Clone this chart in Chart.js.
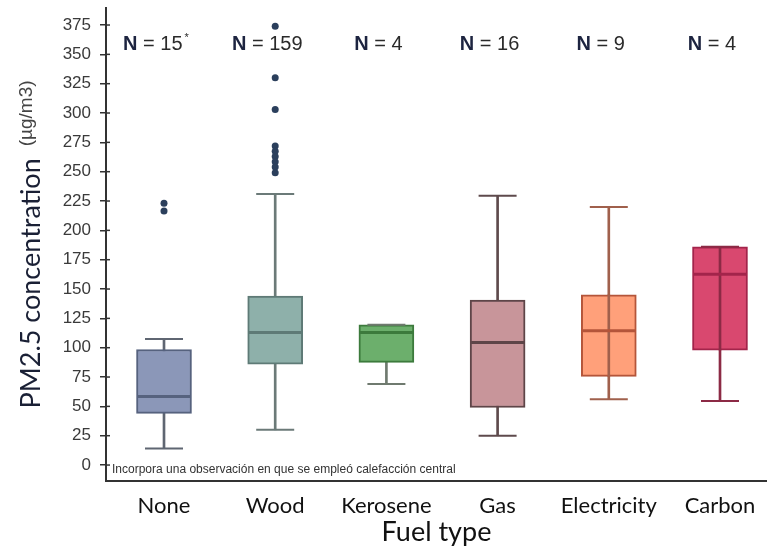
<!DOCTYPE html>
<html><head><meta charset="utf-8">
<script src="https://cdn.jsdelivr.net/npm/chart.js@4"></script>
<style>html,body{margin:0;padding:0;background:#fff;overflow:hidden}#wrap{width:767px;height:546px;position:relative}</style>
</head><body><div id="wrap"><canvas id="c"></canvas></div>
<script>
// ---- data ----
const categories = ['None', 'Wood', 'Kerosene', 'Gas', 'Electricity', 'Carbon'];
const whiskerLow = [14, 30, 69, 25, 56, 54.5];
const q1 = [44, 86, 87.5, 49, 75.5, 98];
const median = [58.5, 113, 113, 104.5, 114.5, 162.5];
const q3 = [98.5, 144, 119.5, 140.5, 145, 186];
const whiskerHigh = [107.5, 231, 119.5, 229.5, 220, 186];
const outliersNone = [223, 216.5];
const outliersWood = [374, 330, 303, 272, 267.5, 263, 258.5, 254, 249];
const sampleSizes = [15, 159, 4, 16, 9, 4];
const sampleMarks = ['*', '', '', '', '', ''];
const yTicks = [0, 25, 50, 75, 100, 125, 150, 175, 200, 225, 250, 275, 300, 325, 350, 375];
const yTitle = 'PM2.5 concentration';
const yUnit = '(µg/m3)';
const xTitle = 'Fuel type';
const footnote = 'Incorpora una observación en que se empleó calefacción central';

// ---- styles ----
const fillColors = ['#8b97b8', '#8eb0aa', '#6caf6c', '#c8959a', '#ffa07a', '#d9486f'];
const borderColors = ['#56627e', '#5e7a76', '#3c7a3c', '#5e4548', '#b4553a', '#a3244b'];
const whiskerColors = ['#5f6672', '#6b7a78', '#6f7a6f', '#5e4a4c', '#a0604c', '#8c2a45'];
const lineThroughBox = [false, false, false, false, true, true];

const whiskerData = categories.map((c, i) => ({x: i, y: [whiskerLow[i], whiskerHigh[i]]}));
const boxData = categories.map((c, i) => ({x: i, y: [q1[i], q3[i]]}));
const throughData = categories.map((c, i) => ({x: i, y: lineThroughBox[i] ? [q1[i], q3[i]] : null}));
const medianData = categories.map((c, i) => ({x: i, y: median[i]}));
const capData = categories.map((c, i) => ({x: i, y: whiskerLow[i]}))
  .concat(categories.map((c, i) => ({x: i, y: whiskerHigh[i]})));
const capColors = whiskerColors.concat(whiskerColors);
const outlierData = outliersNone.map(v => ({x: 0, y: v})).concat(outliersWood.map(v => ({x: 1, y: v})));

const decor = {
  id: 'decor',
  afterDraw(chart) {
    const ctx = chart.ctx, xs = chart.scales.x, ys = chart.scales.y, ca = chart.chartArea;
    ctx.save();
    // small inward tick marks on the y axis
    ctx.strokeStyle = '#333'; ctx.lineWidth = 1.5;
    yTicks.forEach(v => { const y = ys.getPixelForValue(v); ctx.beginPath(); ctx.moveTo(ca.left, y); ctx.lineTo(ca.left + 4, y); ctx.stroke(); });
    // N labels
    ctx.textBaseline = 'middle';
    sampleSizes.forEach((n, i) => {
      const cx = xs.getPixelForValue(i) - 8, cy = ys.getPixelForValue(358);
      ctx.font = 'bold 20px "Liberation Sans", Arial, sans-serif';
      const wN = ctx.measureText('N').width;
      ctx.font = '20px "Liberation Sans", Arial, sans-serif';
      const rest = ' = ' + n;
      const wR = ctx.measureText(rest).width;
      ctx.font = '11px "Liberation Sans", Arial, sans-serif';
      const wM = sampleMarks[i] ? ctx.measureText(sampleMarks[i]).width + 2 : 0;
      let x = cx - (wN + wR + wM) / 2;
      ctx.textAlign = 'left';
      ctx.fillStyle = '#1d2440';
      ctx.font = 'bold 20px "Liberation Sans", Arial, sans-serif';
      ctx.fillText('N', x, cy); x += wN;
      ctx.fillStyle = '#2a2a2a';
      ctx.font = '20px "Liberation Sans", Arial, sans-serif';
      ctx.fillText(rest, x, cy); x += wR;
      if (sampleMarks[i]) { ctx.font = '11px "Liberation Sans", Arial, sans-serif'; ctx.fillText(sampleMarks[i], x + 2, cy - 7); }
    });
    // footnote
    ctx.font = '12px "Liberation Sans", Arial, sans-serif';
    ctx.fillStyle = '#333'; ctx.textAlign = 'left'; ctx.textBaseline = 'middle';
    ctx.fillText(footnote, ca.left + 6, ca.bottom - 11);
    // y title (two fonts), centered along the axis
    const f1 = '27px Lato, sans-serif', f2 = '19px "Liberation Sans", Arial, sans-serif';
    ctx.font = f1; const w1 = ctx.measureText(yTitle).width;
    ctx.font = f2; const w2 = ctx.measureText(yUnit).width;
    const gap = 12, total = w1 + gap + w2;
    const mid = (ca.top + ca.bottom) / 2;
    ctx.save(); ctx.translate(31, mid + total / 2); ctx.rotate(-Math.PI / 2);
    ctx.font = f1; ctx.fillStyle = '#1a2035'; ctx.textAlign = 'left'; ctx.textBaseline = 'middle';
    ctx.fillText(yTitle, 0, 0);
    ctx.restore();
    ctx.save(); ctx.translate(27, mid + total / 2 - w1 - gap); ctx.rotate(-Math.PI / 2);
    ctx.font = f2; ctx.fillStyle = '#444'; ctx.textAlign = 'left'; ctx.textBaseline = 'middle';
    ctx.fillText(yUnit, 0, 0);
    ctx.restore();
    ctx.restore();
  }
};

new Chart(document.getElementById('c'), {
  type: 'bar',
  data: {
    datasets: [
      {label: 'whisker', data: whiskerData, backgroundColor: whiskerColors, barThickness: 2, grouped: false, order: 6},
      {label: 'box', data: boxData, backgroundColor: fillColors, borderColor: borderColors, borderWidth: 2, borderSkipped: false, barThickness: 55, grouped: false, order: 5},
      {label: 'through', data: throughData, backgroundColor: whiskerColors, barThickness: 2, grouped: false, order: 4},
      {type: 'line', label: 'median', data: medianData, showLine: false, pointStyle: 'line', pointRadius: 26.5, pointBorderWidth: 3, pointBorderColor: borderColors, order: 3},
      {type: 'line', label: 'caps', data: capData, showLine: false, pointStyle: 'line', pointRadius: 19, pointBorderWidth: 2, pointBorderColor: capColors, order: 3},
      {type: 'line', label: 'outliers', data: outlierData, showLine: false, pointStyle: 'circle', pointRadius: 3.5, pointBorderWidth: 0, pointBackgroundColor: '#2b3f5c', order: 1}
    ]
  },
  options: {
    responsive: true, maintainAspectRatio: false, animation: false, events: [],
    layout: {autoPadding: false, padding: {top: 8, left: 0, right: 0, bottom: 0}},
    plugins: {legend: {display: false}, tooltip: {enabled: false}},
    scales: {
      x: {
        type: 'linear', min: -0.5216, max: 5.4227, offset: false,
        afterBuildTicks: s => { s.ticks = categories.map((c, i) => ({value: i})); },
        ticks: {callback: v => categories[v], font: {family: 'Lato', size: 22}, color: '#111', padding: 12, maxRotation: 0, autoSkip: false},
        grid: {display: false, drawTicks: false},
        border: {display: true, color: '#333', width: 2},
        title: {display: true, text: xTitle, font: {family: 'Lato', size: 27, lineHeight: 1}, color: '#111', padding: 0},
        afterFit: s => { s.height = 65; s.paddingLeft = 0; s.paddingRight = 0; }
      },
      y: {
        type: 'linear', min: -13.6, max: 389.5,
        afterBuildTicks: s => { s.ticks = yTicks.map(v => ({value: v})); },
        ticks: {font: {family: 'Liberation Sans', size: 17}, color: '#3a3a3a', padding: 9, autoSkip: false},
        grid: {drawOnChartArea: false, drawTicks: true, tickLength: 6, color: '#333', lineWidth: 1.5},
        border: {display: true, color: '#333', width: 2},
        afterFit: s => { s.width = 106; s.paddingTop = 0; s.paddingBottom = 0; }
      }
    }
  },
  plugins: [decor]
});
</script>
</body></html>
